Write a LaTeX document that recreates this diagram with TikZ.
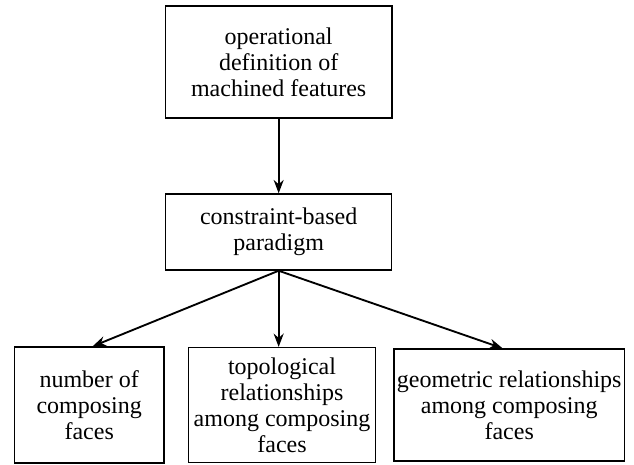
\documentclass[tikz,border=0pt]{standalone}
\usepackage{fontspec}
\setmainfont{Liberation Serif}
\usetikzlibrary{arrows.meta, positioning}

\begin{document}
\begin{tikzpicture} [node distance = 130pt, on grid, auto,
  box/.style={rectangle, draw, line width=1.1pt, align=center, inner sep=0pt,
    font=\fontsize{18}{19.5}\selectfont}]
\useasboundingbox (-209pt,46.5pt) rectangle (266.5pt,-301.5pt);
\node (0) [box, minimum width=170pt, minimum height=84pt] {operational\\ definition of\\ machined features};
\node (1) [box, below=127.5pt of 0, minimum width=169.5pt, minimum height=57pt] {constraint-based\\ paradigm};
\node (2) [box, below=129.75pt of 1, xshift=2.5pt, minimum width=140pt, minimum height=86pt] {topological\\ relationships\\ among composing\\ faces};
\node (3) [box, left=144.6pt of 2, minimum width=112pt, minimum height=87pt] {number of\\ composing\\ faces};
\node (4) [box, right=170.4pt of 2, minimum width=173pt, minimum height=84pt] {geometric relationships\\ among composing\\ faces};

\path [-{Stealth[length=10pt,width=7.5pt]}, line width=1.4pt]
    (0) edge (1)

    (1.south) edge ([xshift=2.6pt]3.north)
    (1.south) edge (1.south |- 2.north)
    (1.south) edge ([xshift=-5pt]4.north);
\end{tikzpicture}
\end{document}
